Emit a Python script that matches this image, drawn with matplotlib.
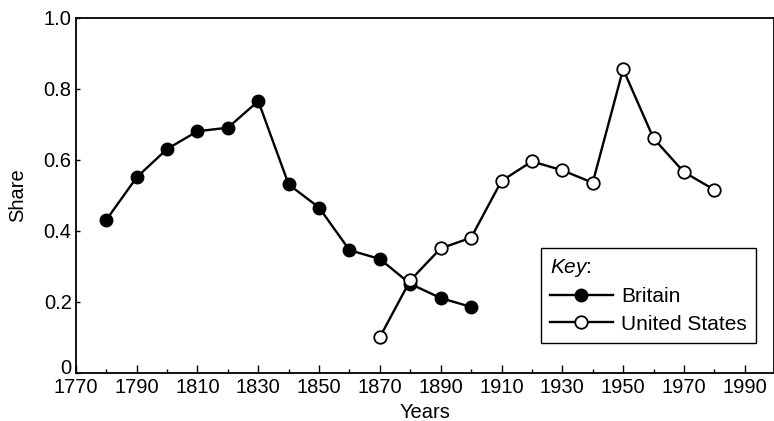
import numpy as np
import matplotlib
matplotlib.use('Agg')
import matplotlib.pyplot as plt
import matplotlib.transforms as mtransforms
from matplotlib.ticker import FixedLocator

plt.rcParams['font.family'] = ['Liberation Sans', 'DejaVu Sans']
plt.rcParams['mathtext.fontset'] = 'custom'
plt.rcParams['mathtext.it'] = 'Liberation Sans:italic'
plt.rcParams['mathtext.rm'] = 'Liberation Sans'

# data
britain_years = [1780, 1790, 1800, 1810, 1820, 1830, 1840, 1850, 1860, 1870, 1880, 1890, 1900]
britain_share = [0.43, 0.55, 0.63, 0.68, 0.69, 0.765, 0.53, 0.465, 0.345, 0.32, 0.25, 0.21, 0.185]
us_years = [1870, 1880, 1890, 1900, 1910, 1920, 1930, 1940, 1950, 1960, 1970, 1980]
us_share = [0.10, 0.26, 0.35, 0.38, 0.54, 0.595, 0.57, 0.535, 0.855, 0.66, 0.565, 0.515]
x_ticks = list(range(1770, 2000, 20))
y_ticks = [0, 0.2, 0.4, 0.6, 0.8, 1.0]
y_labels = ['0', '0.2', '0.4', '0.6', '0.8', '1.0']

fig = plt.figure(figsize=(7.74, 4.21), dpi=100)
ax = fig.add_axes([0.098, 0.115, 0.9015, 0.843])

ax.plot(britain_years, britain_share, color='black', lw=1.7, marker='o', ms=9,
        mfc='black', mec='black', label='Britain', zorder=3)
ax.plot(us_years, us_share, color='black', lw=1.7, marker='o', ms=9,
        mfc='white', mec='black', mew=1.3, label='United States', zorder=4)

ax.set_xlim(1770, 1999.5)
ax.set_ylim(0, 1.0)
ax.set_xticks(x_ticks)
ax.xaxis.set_minor_locator(FixedLocator(list(range(1780, 2000, 20))))
ax.set_yticks(y_ticks, labels=y_labels)
ax.tick_params(axis='both', which='major', direction='in', length=6, width=1,
               labelsize=14.5)
ax.tick_params(axis='x', which='major', pad=4)
ax.tick_params(axis='x', which='minor', direction='in', length=3, width=1)
ax.tick_params(axis='y', which='major', length=3, pad=3)
for s in ax.spines.values():
    s.set_linewidth(1.3)

# the "0" label sits a little above the bottom spine
zero = ax.get_yticklabels()[0]
zero.set_transform(zero.get_transform() + mtransforms.ScaledTranslation(0, 6 / 100, fig.dpi_scale_trans))

ax.set_xlabel('Years', fontsize=14.5, labelpad=4)
ax.set_ylabel('Share', fontsize=14.5, labelpad=12)

leg = ax.legend(title=r'$\it{Key}$:', loc='lower right', bbox_to_anchor=(0.975, 0.083),
                fontsize=15, title_fontsize=15, frameon=True, fancybox=False,
                edgecolor='black', framealpha=1, handlelength=3, labelspacing=0.4,
                borderpad=0.45, handletextpad=0.4, borderaxespad=0, alignment='left')
leg.get_frame().set_linewidth(1.0)

fig.savefig('out.png', dpi=100)
